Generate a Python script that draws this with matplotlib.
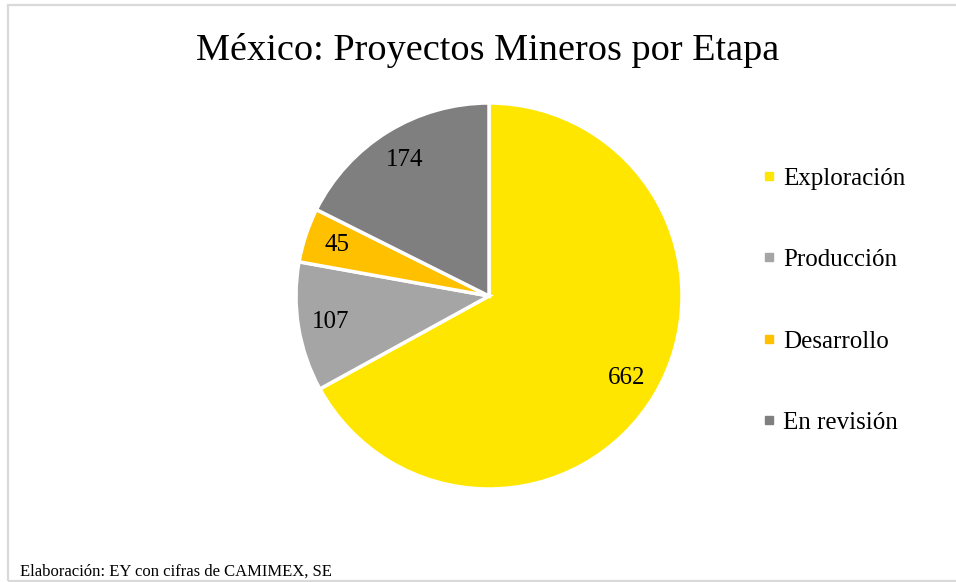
import matplotlib
matplotlib.use("Agg")
import matplotlib.pyplot as plt
from matplotlib.patches import Rectangle
from matplotlib.lines import Line2D

categories = ["Exploración", "Producción", "Desarrollo", "En revisión"]
values = [662, 107, 45, 174]
colors = ["#FFE600", "#A5A5A5", "#FFC000", "#7F7F7F"]
title = "México: Proyectos Mineros por Etapa"
footer = "Elaboración: EY con cifras de CAMIMEX, SE"

W, H = 956, 582
fig = plt.figure(figsize=(W / 100, H / 100), dpi=100)
fig.patch.set_facecolor("white")
plt.rcParams['font.family'] = ['Liberation Serif', 'DejaVu Serif']

# border
fig.patches.append(Rectangle((8 / W, 1.5 / H), 1.2, 1 - 6.5 / H, transform=fig.transFigure,
                             fill=False, edgecolor="#D9D9D9", linewidth=1.6, zorder=0))

cx, cy, r = 489, 296, 193
ax = fig.add_axes([(cx - r) / W, 1 - (cy + r) / H, 2 * r / W, 2 * r / H])
total = sum(values)
wedges, texts, autotexts = ax.pie(
    values, colors=colors, startangle=90, counterclock=False,
    wedgeprops=dict(edgecolor="white", linewidth=2.5),
    autopct=lambda p: f"{round(p * total / 100):d}", pctdistance=0.83,
    textprops=dict(fontsize=18, color="black"))
ax.set_aspect("equal")
ax.set_xlim(-1, 1)
ax.set_ylim(-1, 1)
ax.axis("off")

fig.text(488 / W, 1 - 50 / H, title, ha="center", va="center", fontsize=27.5, color="#000000")

handles = [Line2D([0], [0], marker="s", linestyle="none", markersize=5.8,
                  markerfacecolor=c, markeredgecolor=c) for c in colors]
fig.legend(handles, categories, loc="center left", bbox_to_anchor=(749 / W, 1 - 300.5 / H),
           frameon=False, fontsize=18, labelspacing=2.36, handletextpad=0.15,
           handlelength=0.8, borderaxespad=0)

fig.text(20 / W, 1 - 576 / H, footer, ha="left", va="baseline", fontsize=12, color="#000000")

fig.savefig("out.png", dpi=100)
